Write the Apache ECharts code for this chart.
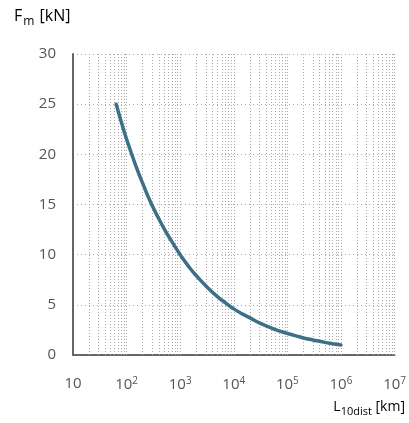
<!DOCTYPE html>
<html><head><meta charset="utf-8">
<script src="https://cdn.jsdelivr.net/npm/echarts@6/dist/echarts.min.js"></script>
<style>html,body{margin:0;padding:0;background:#fff}#c{width:409px;height:423px}</style>
</head><body><div id="c"></div>
<script>
const lifeKm = [64, 80, 100, 150, 200, 300, 500, 700, 1000, 1500, 2000, 3000, 5000, 7000, 10000, 15000, 20000, 30000, 50000, 70000, 100000, 150000, 200000, 300000, 500000, 700000, 1000000];
const forceKN = [25, 23.2, 21.5, 18.8, 17.1, 14.9, 12.6, 11.3, 10, 8.7, 7.9, 6.9, 5.8, 5.2, 4.6, 4.05, 3.7, 3.2, 2.7, 2.4, 2.15, 1.88, 1.7, 1.5, 1.26, 1.13, 1.0];
const yTicks = [0, 5, 10, 15, 20, 25, 30];
const xDecades = [10, 100, 1000, 10000, 100000, 1000000, 10000000];
const minorMultipliers = [2, 3, 4, 5, 6, 7, 8, 9, 10];

const gridX = [];
xDecades.slice(0, -1).forEach(d => minorMultipliers.forEach(m => gridX.push(d * m)));

const FONT = '"Open Sans", sans-serif';
const TXT = '#555';
const chart = echarts.init(document.getElementById('c'));
chart.setOption({
  animation: false,
  grid: {left: 73, right: 12, top: 54, bottom: 68},
  xAxis: {
    type: 'log', logBase: 10, min: 10, max: 10000000,
    axisLine: {lineStyle: {color: '#666', width: 2}},
    axisTick: {show: false},
    splitLine: {show: false},
    axisLabel: {
      margin: 21, color: TXT, fontFamily: FONT, fontSize: 15,
      formatter: v => {
        const e = Math.round(Math.log10(v));
        return e === 1 ? '{b|10}' : '{b|10}{s|' + e + '}';
      },
      rich: {
        b: {fontFamily: FONT, fontSize: 15, color: TXT},
        s: {fontFamily: FONT, fontSize: 10, color: TXT, verticalAlign: 'top', padding: [0, 0, 7, 0]}
      }
    }
  },
  yAxis: {
    type: 'value', min: 0, max: 30, interval: 5,
    axisLine: {show: true, lineStyle: {color: '#666', width: 2}},
    axisTick: {show: false},
    splitLine: {show: true, lineStyle: {color: '#aaa', type: [1, 3], width: 1}},
    axisLabel: {margin: 17, color: TXT, fontFamily: FONT, fontSize: 15}
  },
  graphic: [
    {type: 'text', left: 14, top: 8, style: {
      text: '{a|F}{s|m}{a| [kN]}',
      rich: {a: {fontFamily: FONT, fontSize: 16, color: TXT},
             s: {fontFamily: FONT, fontSize: 12, color: TXT, padding: [11, 1, 0, 1]}}
    }},
    {type: 'text', right: 4, top: 400, style: {
      text: '{a|L}{s|10dist}{a| [km]}',
      rich: {a: {fontFamily: FONT, fontSize: 14, color: TXT},
             s: {fontFamily: FONT, fontSize: 11, color: TXT, padding: [10, 0, 0, 0]}}
    }}
  ],
  series: [{
    type: 'line', smooth: true, showSymbol: false,
    data: lifeKm.map((l, i) => [l, forceKN[i]]),
    lineStyle: {color: '#3d7086', width: 3.5, cap: 'round'},
    itemStyle: {color: '#3d7086'},
    z: 5,
    markLine: {
      silent: true, symbol: 'none', label: {show: false},
      lineStyle: {color: '#aaa', type: [1, 2], width: 1},
      data: gridX.map(x => ({xAxis: x}))
    }
  }]
});
</script></body></html>
